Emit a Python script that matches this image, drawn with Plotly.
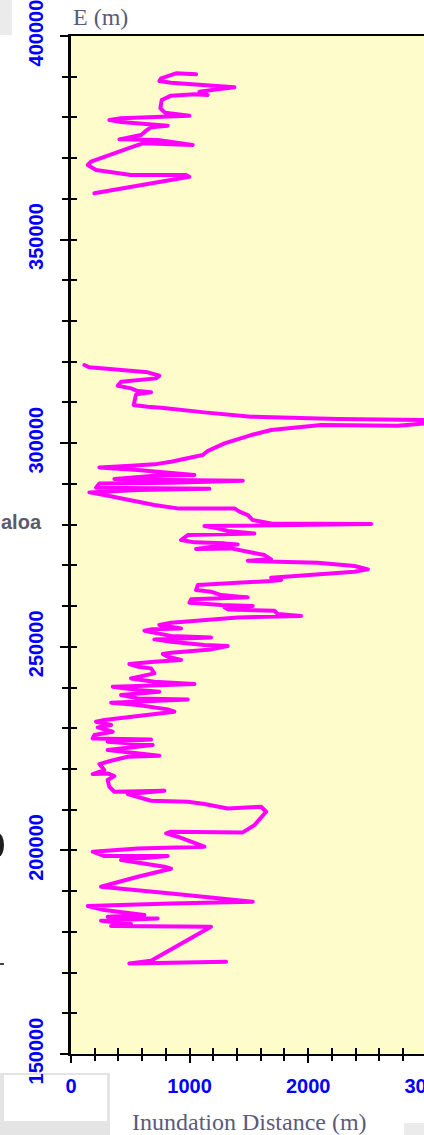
import plotly.graph_objects as go

# Inundation distance (m) along the coast, traced north (top) to south (bottom).
# None splits the record where no inundation was surveyed.
distance_m = [
    1055, 886, 760, 745, 844, 1125, 1378, 1238, 1083, 1153, 1041, 844, 765, 754,
    793, 999, 703, 422, 323, 422, 816, 675, 633, 591, 408, 731, 1027, 605, 506,
    169, 141, 211, 506, 970, 999, 591, 197,
    None,
    113, 155, 647, 745, 717, 422, 394, 506, 563, 675, 549, 529, 647, 760, 1125,
    1519, 2250, 2982, 3150, 2982, 2757, 2110, 1969, 1688, 1519, 1294, 1153, 1111,
    844, 703, 506, 239, 563, 1041, 703, 366, 844, 1449, 844, 239, 211, 1167, 563,
    155, 281, 703, 900, 1378,
    1421, 1491, 1533, 1688, 2532, 1125, 1238, 1322, 1547, 1181, 985, 928, 1041,
    1294, 1406, 1238, 1055, 1350, 1463, 1632, 1688, 1491, 1744, 2082, 2391, 2504,
    2391, 1969, 1688, 1772, 1688, 1407, 1069, 1055, 1181, 1266, 1491, 1210, 1013,
    999, 1266, 1533, 1294, 1322, 1716, 1744, 1941, 1407, 1125, 844, 745, 928, 675,
    619, 731, 844, 1181, 844, 703, 844, 1125, 1322, 1181, 844, 774, 816, 928, 703,
    492, 563, 675, 703, 506, 703, 1041, 563, 352, 563, 745, 422, 563, 985,
    563, 338, 563, 816, 872, 647, 422, 281, 211, 338, 225, 352, 197, 183, 675, 309,
    689, 309, 745, 478, 338, 239, 281, 183, 309, 366, 309, 323, 366, 788, 478, 563,
    675, 985, 1125, 1322, 1603, 1646, 1547, 1449, 844, 802, 900, 1125, 985, 563,
    183, 281, 816, 422, 788, 844, 563, 253, 844, 1533, 844, 141, 281, 619, 309, 731,
    253, 506, 338, 1181, 675, 492, 844, 1308,
]

easting_m = [
    390590, 390830, 389600, 388950, 388540, 387970, 387390, 386900, 386330, 385510,
    385670, 385350, 384280, 382240, 381170, 380430, 380030, 379780, 379370, 378880,
    377980, 377570, 376750, 375690, 374620, 374460, 373230, 373640, 372660, 369140,
    368320, 367090, 365860, 365860, 365450, 363410, 361360,
    None,
    319200, 318630, 317400, 316580, 315920, 315100, 314120, 313470, 312810, 312490,
    311990, 309370, 308960, 308720, 307570, 306510, 305940, 305690, 305280, 304870,
    304300, 304460, 304050, 303230, 302000, 299960, 298080, 297090, 295460, 294800,
    294470, 294060, 293410, 292180, 292020, 291200, 290950, 290790, 290300, 290130,
    289070, 288820, 288500, 287920, 287270, 284810, 283990, 283990,
    283180, 282360, 281130, 280310, 280150, 279660, 279080, 278430, 277850, 277610,
    277450, 276220, 275650, 275400, 275150, 274740, 274010, 274170, 273520, 272530,
    271470, 271140, 270900, 270650, 269830, 269010, 268440, 267620, 266970, 266390,
    266150, 265740, 265170, 263940, 263530, 262710, 262140, 261890, 261650, 260830,
    260250, 260010, 259680, 259190, 258860, 258040, 257550, 257220, 256570, 255910,
    255340, 254520, 254280, 253950, 253290, 252640, 252310, 252070, 251820, 251250,
    250430, 250180, 249360, 248550, 248220, 247560, 246750, 246340, 245760, 245110,
    244700, 243470, 242240, 241420, 240850, 240360, 240200, 239380, 238970, 238150,
    237330, 237080,
    236430, 236270, 235690, 234630, 234060, 233240, 232660, 232010, 231600, 230780,
    230210, 229140, 228330, 227510, 227260, 226690, 225870, 224640, 223250, 223000,
    222020, 221200, 219730, 218750, 218910, 218260, 217270, 215640, 214410, 214650,
    213830, 213180, 212200, 211950, 211380, 210310, 210720, 209500, 206220, 204420,
    204580, 204170, 203360, 200900, 200740, 200490, 199670, 198610, 198610, 197620,
    195990, 195500, 193530, 191080, 189440, 187390, 186980, 186330, 185350, 184120,
    183710, 183300, 182730, 181910, 181420, 181250, 172900, 172240, 172410, 172650,
]

x_range = [0, 3500]
y_range = [150000, 400000]

BLUE = "#0000FF"
TITLE_GREY = "#5b5b7b"
tick_font = dict(family="Liberation Sans, Arial, sans-serif", size=20, color=BLUE, weight="bold")

fig = go.Figure()
fig.add_trace(go.Scatter(
    x=distance_m, y=easting_m, mode="lines",
    line=dict(color="#FF00FF", width=4),
    connectgaps=False, hoverinfo="skip", showlegend=False,
))
# empty trace so the overlay axes (inner half of the crossing ticks) are drawn
fig.add_trace(go.Scatter(x=[None], y=[None], xaxis="x2", yaxis="y2",
                         showlegend=False, hoverinfo="skip"))

W, H = 520, 1135
L, R, T, B = 71, 34, 36, 81
pw, ph = W - L - R, H - T - B


def px_x(v):
    return (v - L) / pw


def px_y(v):
    return (H - B - v) / ph


fig.update_layout(
    width=W, height=H,
    margin=dict(l=L, r=R, t=T, b=B, pad=0, autoexpand=False),
    paper_bgcolor="white",
    plot_bgcolor="#FFFCCC",
    showlegend=False,
    xaxis=dict(
        range=x_range, tick0=0, dtick=1000, automargin=False,
        ticks="outside", ticklen=7, tickwidth=2, tickcolor="black",
        minor=dict(dtick=200, ticks="outside", ticklen=5, tickwidth=1.5, tickcolor="black"),
        showline=True, linewidth=2, linecolor="black", mirror=True,
        showgrid=False, zeroline=False,
        tickfont=tick_font, ticklabelstandoff=6, ticklabeloverflow="allow",
    ),
    xaxis2=dict(
        range=x_range, overlaying="x", anchor="y", side="bottom", automargin=False,
        tick0=0, dtick=200, ticks="inside", ticklen=6, tickwidth=1.5, tickcolor="black",
        showticklabels=False, showline=False, showgrid=False, zeroline=False,
    ),
    yaxis=dict(
        range=y_range, tick0=0, dtick=50000, tickformat="d", automargin=False,
        ticks="outside", ticklen=8, tickwidth=2, tickcolor="black",
        minor=dict(dtick=10000, ticks="outside", ticklen=6, tickwidth=1.5, tickcolor="black"),
        showline=True, linewidth=2.5, linecolor="black", mirror=False,
        showgrid=False, zeroline=False,
        tickangle=-90, tickfont=tick_font, ticklabelstandoff=9,
        ticklabeloverflow="allow",
    ),
    yaxis2=dict(
        range=y_range, overlaying="y", anchor="x", side="left", automargin=False,
        tick0=0, dtick=10000, ticks="inside", ticklen=6, tickwidth=1.5, tickcolor="black",
        showticklabels=False, showline=False, showgrid=False, zeroline=False,
    ),
    annotations=[
        dict(text="E (m)", xref="paper", yref="paper", x=px_x(71), y=px_y(17),
             xanchor="left", yanchor="middle", showarrow=False,
             font=dict(family="Liberation Serif, Times New Roman, serif", size=24, color=TITLE_GREY)),
        dict(text="Inundation Distance (m)", xref="paper", yref="paper",
             x=px_x(249), y=px_y(1122), xanchor="center", yanchor="middle", showarrow=False,
             font=dict(family="Liberation Serif, Times New Roman, serif", size=24, color=TITLE_GREY)),
        dict(text="aloa", xref="paper", yref="paper", x=px_x(44), y=px_y(522),
             xanchor="right", yanchor="middle", showarrow=False,
             font=dict(family="Liberation Sans, Arial, sans-serif", size=20,
                       color="#5a5a6e", weight="bold")),
    ],
    shapes=[
        dict(type="rect", xref="paper", yref="paper", x0=px_x(0), x1=px_x(12),
             y0=px_y(35), y1=px_y(0), fillcolor="#ebebeb", line_width=0, layer="below"),
        dict(type="rect", xref="paper", yref="paper", x0=px_x(0), x1=px_x(110),
             y0=px_y(1135), y1=px_y(1073), fillcolor="#e4e4e4", line_width=0, layer="below"),
        dict(type="rect", xref="paper", yref="paper", x0=px_x(4), x1=px_x(107),
             y0=px_y(1121), y1=px_y(1075), fillcolor="#ffffff", line_width=0, layer="below"),
        dict(type="rect", xref="paper", yref="paper", x0=px_x(404), x1=px_x(440),
             y0=px_y(1135), y1=px_y(1123), fillcolor="#ebebeb", line_width=0, layer="below"),
        dict(type="circle", xref="paper", yref="paper", x0=px_x(-8), x1=px_x(4),
             y0=px_y(857), y1=px_y(833), fillcolor="#1e1e1e", line_width=0, layer="below"),
        dict(type="line", xref="paper", yref="paper", x0=px_x(0), x1=px_x(4),
             y0=px_y(964), y1=px_y(964), line=dict(color="#444444", width=2), layer="below"),
    ],
)

# rounded joins and caps on the traced line
post = (
    "document.body.style.margin='0';"
    "document.body.style.overflow='hidden';"
    "var s=document.createElement('style');"
    "s.textContent='.scatterlayer .js-line{stroke-linejoin:round!important;stroke-linecap:round!important;}';"
    "document.head.appendChild(s);"
)
fig.write_html("out.html", post_script=post)
